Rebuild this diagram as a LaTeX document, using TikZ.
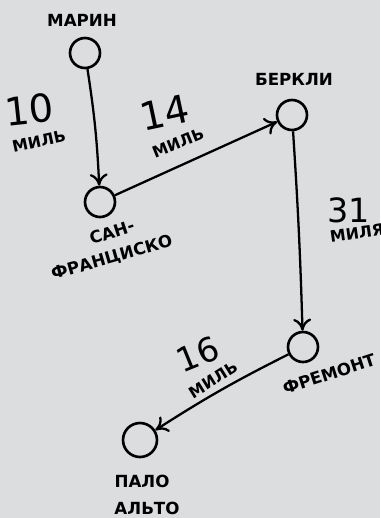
\documentclass[tikz,border=0pt]{standalone}
\usepackage{fontspec}
\setmainfont{DejaVu Sans}
\usetikzlibrary{arrows.meta}

\definecolor{paper}{HTML}{DCDDDF}

\tikzset{
    town/.style={circle, draw, line width=1.5pt, minimum size=0.6cm, inner sep=0pt},
    townname/.style={font=\bfseries\fontsize{9.5}{12}\selectfont, inner sep=0pt},
    miles/.style={font=\fontsize{22}{22}\selectfont, inner sep=0pt},
    milesword/.style={font=\bfseries\fontsize{9}{10}\selectfont, inner sep=0pt},
    road/.style={line width=1.3pt, -{To[length=2.4mm, width=3.6mm]}}
}

\begin{document}
\begin{tikzpicture}[x=0.02cm, y=-0.02cm]

    % -------------------------------
    % фон
    % -------------------------------
    \fill[paper] (0,0) rectangle (380,518);
    \useasboundingbox (0,0) rectangle (380,518);
    \clip (0,0) rectangle (380,518);

    % -------------------------------
    % города
    % -------------------------------
    \node[town] (marin)  at (85,53)   {};
    \node[town] (sf)     at (100,202) {};
    \node[town] (berk)   at (292,115) {};
    \node[town] (frem)   at (303,347) {};
    \node[town, minimum size=0.68cm] (palo) at (140,440) {};

    % подписи городов
    \node[townname] (marinname) at (82,20)  {МАРИН};
    \node[townname] (berkname)  at (294,79) {БЕРКЛИ};
    \node[townname, rotate=18] (sfname1) at (112,232) {САН-};
    \node[townname, rotate=16] (sfname2) at (112,258) {ФРАНЦИСКО};
    \node[townname, rotate=18] (fremname) at (329,374) {ФРЕМОНТ};
    \node[townname] (paloname1) at (142,481) {ПАЛО};
    \node[townname] (paloname2) at (147,508) {АЛЬТО};

    % -------------------------------
    % дороги
    % -------------------------------
    \draw[road] (marin) to[bend left=3] (sf);
    \draw[road] (sf) -- (berk);
    \draw[road] (berk) to[bend left=1] (frem);
    \draw[road] (frem) to[bend right=3] (palo);

    % расстояния
    \node[miles, rotate=6]  (d10) at (29,110)  {10};
    \node[milesword, rotate=12] (w10) at (39,141) {МИЛЬ};
    \node[miles, rotate=12] (d14) at (165,113) {14};
    \node[milesword, rotate=22] (w14) at (178,143) {МИЛЬ};
    \node[miles, font=\fontsize{19}{19}\selectfont] (d31) at (349,210) {31};
    \node[milesword, rotate=8] (w31) at (357,233) {МИЛЯ};
    \node[miles, font=\fontsize{19}{19}\selectfont, rotate=22] (d16) at (198,354) {16};
    \node[milesword, rotate=32] (w16) at (213,380) {МИЛЬ};

\end{tikzpicture}
\end{document}
